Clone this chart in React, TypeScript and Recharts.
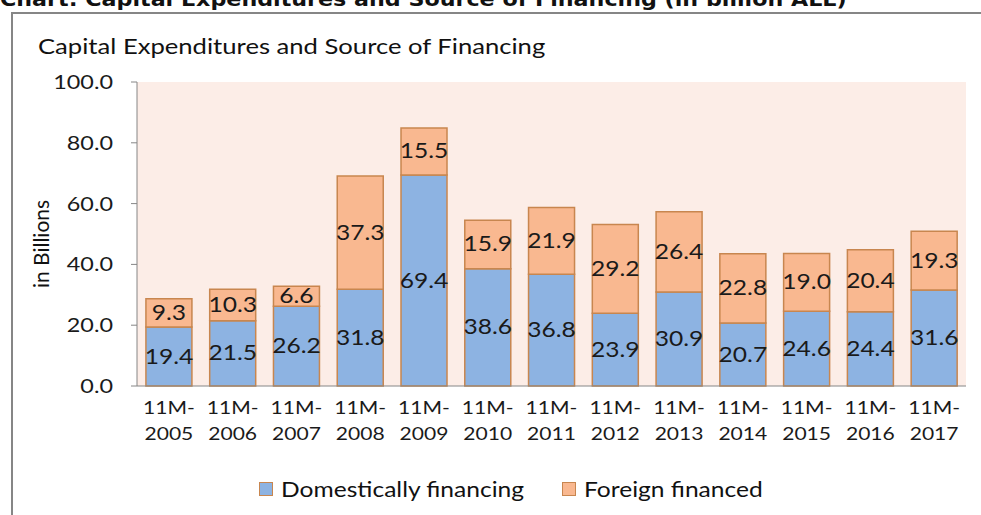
import React from 'react';
import { BarChart, Bar, XAxis, YAxis, CartesianGrid, LabelList, Label } from 'recharts';

const YEARS = ['2005', '2006', '2007', '2008', '2009', '2010', '2011', '2012', '2013', '2014', '2015', '2016', '2017'];
const DOMESTIC = [19.4, 21.5, 26.2, 31.8, 69.4, 38.6, 36.8, 23.9, 30.9, 20.7, 24.6, 24.4, 31.6];
const FOREIGN = [9.3, 10.3, 6.6, 37.3, 15.5, 15.9, 21.9, 29.2, 26.4, 22.8, 19.0, 20.4, 19.3];
const Y_TICKS = [0, 20, 40, 60, 80, 100];
const EDGE_TICKS = YEARS.map((_, i) => i).concat([YEARS.length]);

const FONT = 'Lato, "Open Sans", sans-serif';
const AXIS = '#868686';
const EDGE = '#C8864F';
const BLUE = '#8DB3E2';
const ORANGE = '#F9B890';
// the source image is a bit stretched sideways
const STRETCH = 1.17;

const data = YEARS.map((y, i) => ({
  name: '11M-' + y,
  year: y,
  domestic: DOMESTIC[i],
  foreign: FOREIGN[i],
}));

const WideText = ({ x, y, anchor = 'middle', size, children }: any) => (
  <text transform={`translate(${x},${y}) scale(${STRETCH},1)`} x={0} y={0} textAnchor={anchor}
    fontSize={size} fontFamily={FONT} fill="#1a1a1a">
    {children}
  </text>
);

// value labels sit in the middle of each segment
const SegLabel = (props: any) => {
  const { x, y, width, height, value } = props;
  return (
    <WideText x={x + width / 2} y={y + height / 2 + 7} size={21}>
      {Number(value).toFixed(1)}
    </WideText>
  );
};

const YearTick = (props: any) => {
  const { x, y, payload } = props;
  const year = String(payload.value).replace('11M-', '');
  return (
    <g>
      <WideText x={x} y={y + 20} size={18}>11M-</WideText>
      <WideText x={x} y={y + 46} size={18}>{year}</WideText>
    </g>
  );
};

const ValueTick = (props: any) => {
  const { x, y, payload } = props;
  return <WideText x={x} y={y + 7} anchor="end" size={20}>{Number(payload.value).toFixed(1)}</WideText>;
};

const legendText: React.CSSProperties = {
  display: 'inline-block', transform: `scaleX(${STRETCH})`, transformOrigin: 'left center',
};

const App: React.FC = () => {
  return (
    <div style={{ position: 'absolute', left: 0, top: 0, width: 981, height: 515, overflow: 'hidden', background: '#fff', fontFamily: FONT }}>
      <div style={{ position: 'absolute', left: 0, top: -11, fontSize: 20, lineHeight: '20px', fontWeight: 'bold', fontFamily: '"DejaVu Sans", sans-serif', color: '#111', whiteSpace: 'nowrap', transform: 'scaleX(1.11)', transformOrigin: 'left top' }}>
        Chart: Capital Expenditures and Source of Financing (in billion ALL)
      </div>
      <div style={{ position: 'absolute', left: 11, top: 12, width: 1100, height: 600, border: `2px solid ${AXIS}` }} />
      <div style={{ position: 'absolute', left: 38, top: 33, fontSize: 21, color: '#111', whiteSpace: 'nowrap', transform: 'scaleX(1.22)', transformOrigin: 'left top' }}>
        Capital Expenditures and Source of Financing
      </div>

      <div style={{ position: 'absolute', left: 0, top: 0 }}>
        <BarChart width={981} height={515} data={data} barCategoryGap="14%"
          margin={{ top: 82, right: 15, left: 0, bottom: 69 }}>
          <CartesianGrid horizontal={false} vertical={false} fill="#FCEDE7" />
          <XAxis xAxisId="cat" dataKey="name" height={60} tickLine={false}
            axisLine={{ stroke: AXIS }} tick={<YearTick />} interval={0} />
          <XAxis xAxisId="edge" type="number" domain={[0, YEARS.length]} ticks={EDGE_TICKS}
            height={0} axisLine={false} tick={false} tickLine={{ stroke: AXIS }} tickSize={6} />
          <YAxis width={137} domain={[0, 100]} ticks={Y_TICKS} interval={0}
            axisLine={{ stroke: AXIS }} tickLine={{ stroke: AXIS }} tickSize={6} tickMargin={18}
            tick={<ValueTick />}>
            <Label content={(p: any) => {
              const vb = p.viewBox;
              const cx = 40;
              const cy = vb.y + vb.height / 2 + 10;
              return (
                <text x={cx} y={cy} transform={`rotate(-90 ${cx} ${cy})`} textAnchor="middle"
                  dominantBaseline="central" fontSize={21} fontFamily={FONT} fill="#111">in Billions</text>
              );
            }} />
          </YAxis>
          <Bar xAxisId="cat" dataKey="domestic" stackId="a" fill={BLUE} stroke={EDGE} strokeWidth={1.5} isAnimationActive={false}>
            <LabelList dataKey="domestic" content={<SegLabel />} />
          </Bar>
          <Bar xAxisId="cat" dataKey="foreign" stackId="a" fill={ORANGE} stroke={EDGE} strokeWidth={1.5} isAnimationActive={false}>
            <LabelList dataKey="foreign" content={<SegLabel />} />
          </Bar>
        </BarChart>
      </div>

      <div style={{ position: 'absolute', left: 259, top: 476, display: 'flex', alignItems: 'center', fontSize: 21, color: '#111', whiteSpace: 'nowrap' }}>
        <span style={{ width: 12, height: 12, background: BLUE, border: `1.5px solid ${EDGE}`, marginRight: 8 }} />
        <span style={legendText}>Domestically financing</span>
      </div>
      <div style={{ position: 'absolute', left: 562, top: 476, display: 'flex', alignItems: 'center', fontSize: 21, color: '#111', whiteSpace: 'nowrap' }}>
        <span style={{ width: 12, height: 12, background: ORANGE, border: `1.5px solid ${EDGE}`, marginRight: 8 }} />
        <span style={legendText}>Foreign financed</span>
      </div>
    </div>
  );
};

export default App;
